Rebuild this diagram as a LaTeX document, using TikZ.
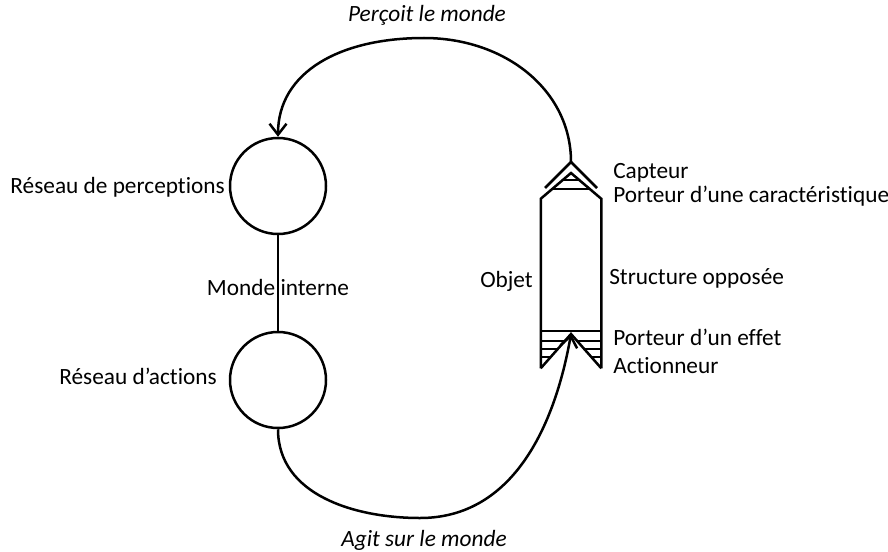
\documentclass[tikz,border=0pt]{standalone}
\usepackage{fontspec}
\setmainfont{Carlito}[Ligatures=NoCommon]
\usetikzlibrary{positioning,arrows.meta}
\begin{document}
\begin{tikzpicture}[x=1pt,y=1pt,line width=2.5pt,
  reseau/.style={circle,draw,minimum size=96pt,inner sep=0pt},
  etiquette/.style={font=\fontsize{23.3}{28}\selectfont,inner sep=0pt},
  monde/.style={etiquette,font=\fontsize{23.3}{28}\selectfont\itshape},
  hachure/.style={line width=1.2pt},
  fleche/.style={-{Straight Barb[length=11pt,width=17pt]}}]
\useasboundingbox (0,0) rectangle (888,-551);
\def\xobj{571}

\node[reseau] (perception) at (278,-186) {};
\node[reseau] (action) at (278,-380) {};
\draw (perception) -- (action);
\node[etiquette,anchor=base east] (lperception) at (226,-193) {Réseau de perceptions};
\node[etiquette,anchor=base east] (laction) at (218,-384) {Réseau d’actions};
\node[etiquette,anchor=base] (interne) at (278,-295) {Monde interne};

\node[inner sep=0pt,minimum width=58pt,minimum height=167pt] (objet) at (\xobj,-283.5) {};
\draw (objet.south west) -- (objet.north west) -- (\xobj,-173) -- (objet.north east) -- (objet.south east);
\begin{scope}
\clip (objet.north west) -- (\xobj,-173) -- (objet.north east) -- cycle;
\foreach \y in {180,189}
  \draw[hachure] (542,-\y) -- (600,-\y);
\end{scope}
\coordinate (capteur) at (\xobj,-162);
\draw (545,-188) -- (capteur) -- (597,-188);

\coordinate (actionneur) at (\xobj,-334);
\draw (objet.south west) -- (actionneur) -- (objet.south east);
\draw (objet.west |- 0,-331) -- (objet.east |- 0,-331);
\begin{scope}
\clip (objet.west |- 0,-331) -- (objet.east |- 0,-331) -- (objet.south east) -- (actionneur) -- (objet.south west) -- cycle;
\foreach \y in {341,349,357}
  \draw[hachure] (542,-\y) -- (600,-\y);
\end{scope}

\node[etiquette,anchor=base west] (lobjet) at (479,-287) {Objet};
\node[etiquette,anchor=base west] (structure) at (608,-284) {Structure opposée};
\node[etiquette,anchor=base west] (lcapteur) at (612,-178) {Capteur};
\node[etiquette,anchor=base west] (caracteristique) at (612,-202) {Porteur d’une caractéristique};
\node[etiquette,anchor=base west] (effet) at (612,-345) {Porteur d’un effet};
\node[etiquette,anchor=base west] (lactionneur) at (612,-373) {Actionneur};

\draw[fleche] (capteur) .. controls (\xobj,-90) and (505,-38) .. (424,-38)
  .. controls (340,-38) and (278,-72) .. (perception.north);
\node[monde,anchor=base] (percoit) at (427,-22) {Perçoit le monde};
\draw[fleche] (action.south) to[out=-90,in=180] (420,-518) to[out=0,in=-100] (actionneur);
\node[monde,anchor=base] (agit) at (424,-546) {Agit sur le monde};
\end{tikzpicture}
\end{document}
